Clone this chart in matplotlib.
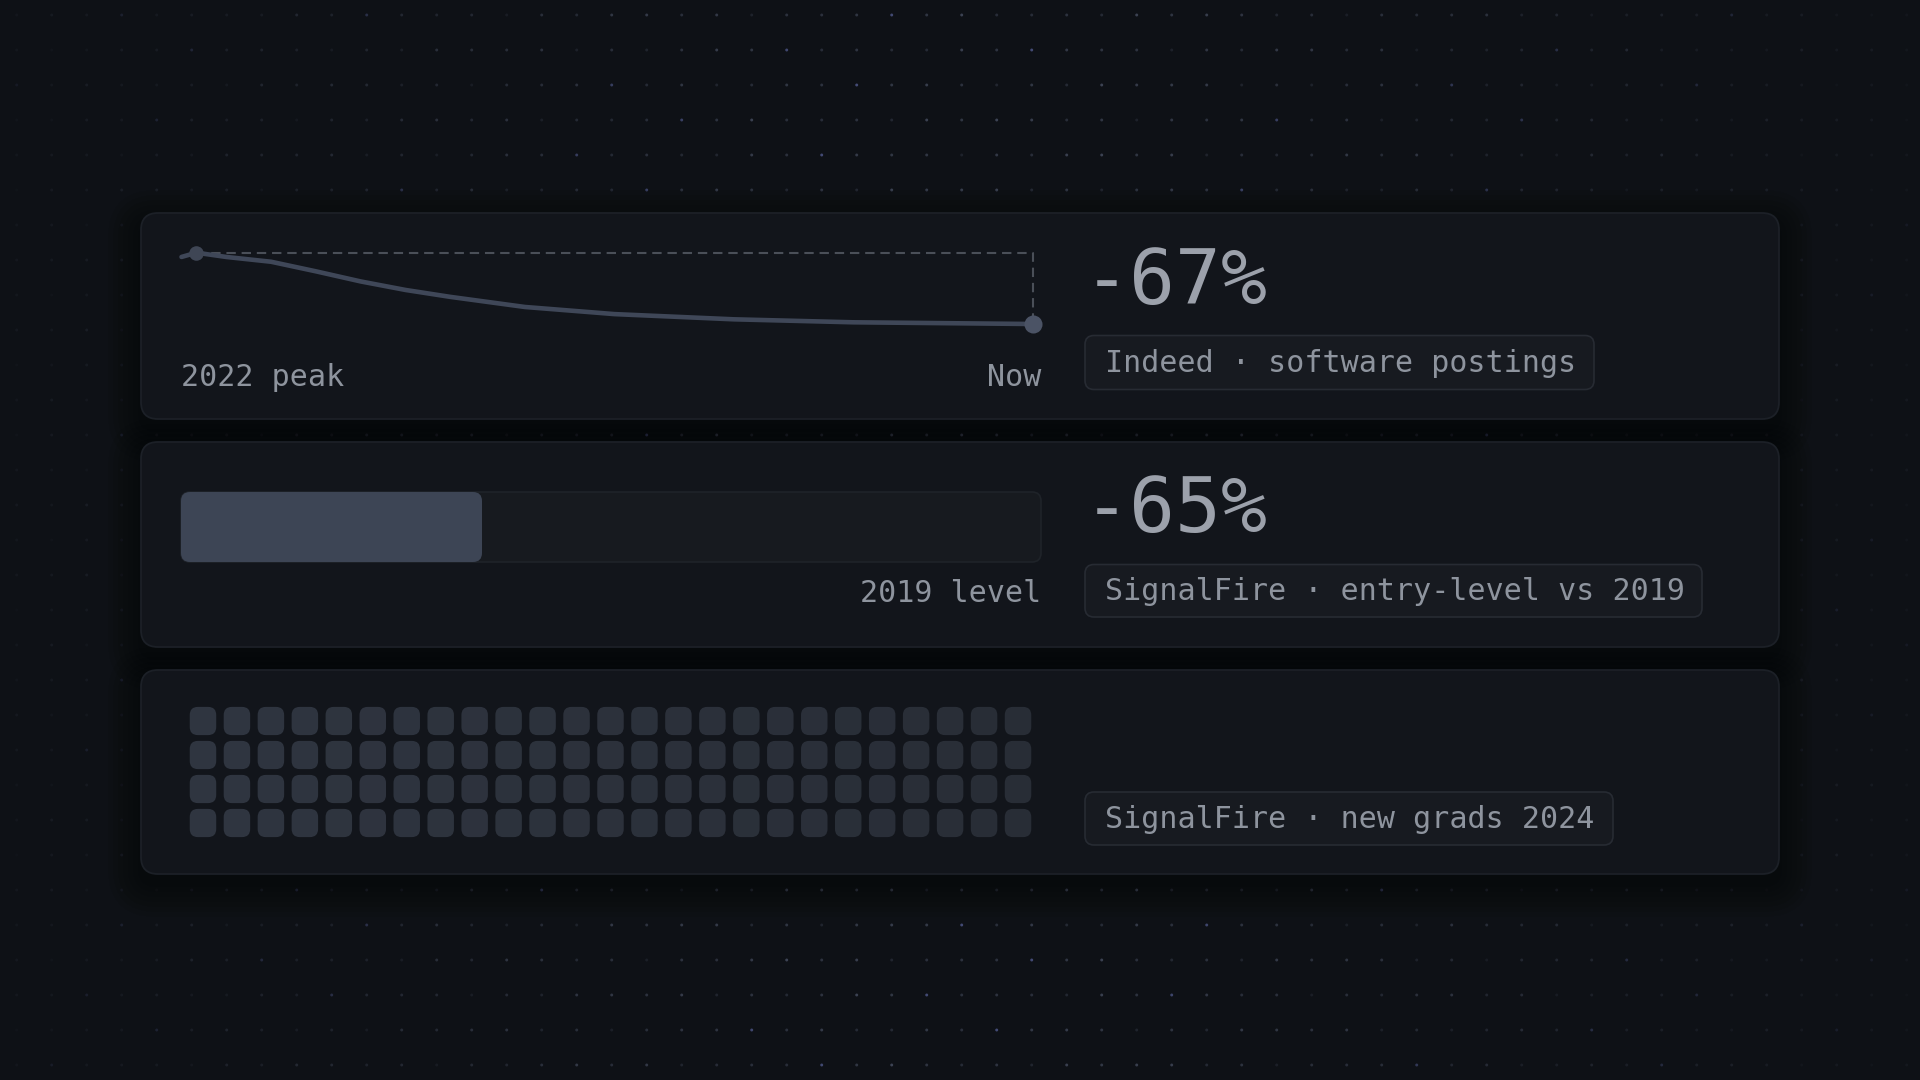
import numpy as np
import matplotlib.pyplot as plt
from matplotlib.patches import FancyBboxPatch
from matplotlib.colors import to_rgb

W, H = 1920, 1080

# Data
spark_months = [0, 1, 3, 6, 9, 12, 15, 18, 23, 29, 37, 45, 57]
spark_index = [96, 100, 96, 91.5, 82.5, 73, 65, 58.5, 49, 42.3, 37.4, 34.6, 33]
spark_labels = ["2022 peak", "Now"]

bar_2019 = 100
bar_now = 35
bar_label = "2019 level"

waffle_rows = 4
waffle_cols = 25
waffle_total = 100

sources = ["Indeed · software postings",
           "SignalFire · entry-level vs 2019",
           "SignalFire · new grads 2024"]

# Colours
BG = "#0e1116"
CARD = "#12151b"
CARD_EDGE = "#1c2027"
BADGE = "#171a20"
BADGE_EDGE = "#272b33"
TEXT = "#8e949e"
BIG = "#9ca1ab"
LINE = "#3f4758"
DASH = "#4a4f58"

plt.rcParams['font.family'] = ['DejaVu Sans Mono', 'DejaVu Sans']

fig = plt.figure(figsize=(W / 100, H / 100), dpi=100, facecolor=BG)
bg = fig.add_axes([0, 0, 1, 1])
bg.set_xlim(0, W)
bg.set_ylim(H, 0)
bg.axis('off')


def px_axes(x0, y0, x1, y1):
    ax = fig.add_axes([x0 / W, 1 - y1 / H, (x1 - x0) / W, (y1 - y0) / H])
    ax.axis('off')
    return ax


def rbox(ax, x0, y0, x1, y1, r, **kw):
    p = FancyBboxPatch((x0, y0), x1 - x0, y1 - y0,
                       boxstyle=f"round,pad=0,rounding_size={r}", **kw)
    ax.add_patch(p)
    return p


# dotted background
xs = np.arange(16.7, W, 35)
ys = np.arange(15, H, 35)
gx, gy = np.meshgrid(xs, ys)
ii, jj = np.meshgrid(np.arange(len(xs)), np.arange(len(ys)))
pattern = 0.5 + 0.5 * np.sin(ii * 1.7 + jj * 2.3) * np.cos(ii * 0.9 - jj * 1.3)
fade = np.clip(1.15 - np.abs(gx - 960) / 950, 0.15, 1)
alpha = (0.3 + 0.7 * pattern) * fade
cols = np.zeros((gx.size, 4))
cols[:, :3] = to_rgb("#434a5c")
blue = (pattern.ravel() > 0.9)
cols[blue, :3] = to_rgb("#454d78")
cols[:, 3] = alpha.ravel()
bg.scatter(gx.ravel(), gy.ravel(), s=4.5, c=cols, lw=0, zorder=1)

# cards with soft shadow
cards = [(141, 213, 1779, 419), (141, 442, 1779, 647), (141, 670, 1779, 874)]
for x0, y0, x1, y1 in cards:
    for k in range(7):
        pad = 3 + k * 5
        rbox(bg, x0 - pad, y0 - pad + 10, x1 + pad, y1 + pad + 10, 16 + pad,
             fc="black", ec="none", alpha=0.06, zorder=2)
for x0, y0, x1, y1 in cards:
    rbox(bg, x0, y0, x1, y1, 17, fc=CARD, ec=CARD_EDGE, lw=1.3, zorder=3)

# badges
badges = [(1085, 335.5, 1594, 389.5), (1085, 564.5, 1702, 617), (1085, 792, 1613, 845)]
for (x0, y0, x1, y1), src in zip(badges, sources):
    rbox(bg, x0, y0, x1, y1, 9, fc=BADGE, ec=BADGE_EDGE, lw=1.2, zorder=4)
    bg.text(x0 + 20, (y0 + y1) / 2 + 1, src, fontsize=21.6, color=TEXT,
            ha='left', va='center', zorder=5)

# big numbers
peak = max(spark_index)
spark_change = round((spark_index[-1] - peak) / peak * 100)
bar_change = bar_now - bar_2019
bg.text(1084, 283, f"{spark_change}%", fontsize=55, color=BIG,
        ha='left', va='center', zorder=5)
bg.text(1084, 511, f"{bar_change}%", fontsize=55, color=BIG,
        ha='left', va='center', zorder=5)

# --- card 1: sparkline
ax1 = px_axes(181.5, 252.7, 1032.5, 324)
ax1.set_xlim(spark_months[0], spark_months[-1])
ax1.set_ylim(spark_index[-1], peak)
ipk = spark_index.index(peak)
ax1.plot([spark_months[ipk], spark_months[-1], spark_months[-1]],
         [peak, peak, spark_index[-1]], color=DASH, lw=1.5,
         dashes=(4.5, 2.8), clip_on=False, zorder=2)
ax1.plot(spark_months, spark_index, color=LINE, lw=3.3,
         solid_capstyle='round', solid_joinstyle='round', clip_on=False, zorder=3)
ax1.plot(spark_months[ipk], peak, 'o', ms=10.5, color="#3f4655", mew=0,
         clip_on=False, zorder=4)
ax1.plot(spark_months[-1], spark_index[-1], 'o', ms=13, color="#4b5365", mew=0,
         clip_on=False, zorder=4)
bg.text(181, 378, spark_labels[0], fontsize=21.6, color=TEXT,
        ha='left', va='center', zorder=5)
bg.text(1041, 378, spark_labels[1], fontsize=21.6, color=TEXT,
        ha='right', va='center', zorder=5)

# --- card 2: progress bar
bx0, by0, bx1, by1 = 181, 492, 1041, 562
ax2 = px_axes(bx0, by0, bx1, by1)
ax2.set_xlim(0, bar_2019)
ax2.set_ylim(0, 1)
ux = (bx1 - bx0) / bar_2019
uy = (by1 - by0)
asp = ux / uy
ax2.add_patch(FancyBboxPatch((0, 0), bar_2019, 1,
                             boxstyle=f"round,pad=0,rounding_size={9 / ux}",
                             mutation_aspect=asp, fc="#171a1f", ec="#1f2329",
                             lw=1.2, clip_on=False))
ax2.add_patch(FancyBboxPatch((0, 0), bar_now, 1,
                             boxstyle=f"round,pad=0,rounding_size={9 / ux}",
                             mutation_aspect=asp, fc="#3d4555", ec="none",
                             clip_on=False))
bg.text(1041, 593, bar_label, fontsize=21.6, color=TEXT,
        ha='right', va='center', zorder=5)

# --- card 3: waffle grid
ax3 = px_axes(186, 704, 1035, 840)
ax3.set_xlim(0, waffle_cols)
ax3.set_ylim(waffle_rows, 0)
c_left = np.array(to_rgb("#2f3540"))
c_right = np.array(to_rgb("#282d36"))
cw, ch = 0.78, 0.83
for n in range(waffle_total):
    r, c = divmod(n, waffle_cols)
    t = c / (waffle_cols - 1)
    col = c_left * (1 - t) + c_right * t
    ax3.add_patch(FancyBboxPatch((c + 0.5 - cw / 2, r + 0.5 - ch / 2), cw, ch,
                                 boxstyle="round,pad=0,rounding_size=0.24",
                                 fc=col, ec="none", clip_on=False))

fig.savefig("out.png", dpi=100, facecolor=BG)
